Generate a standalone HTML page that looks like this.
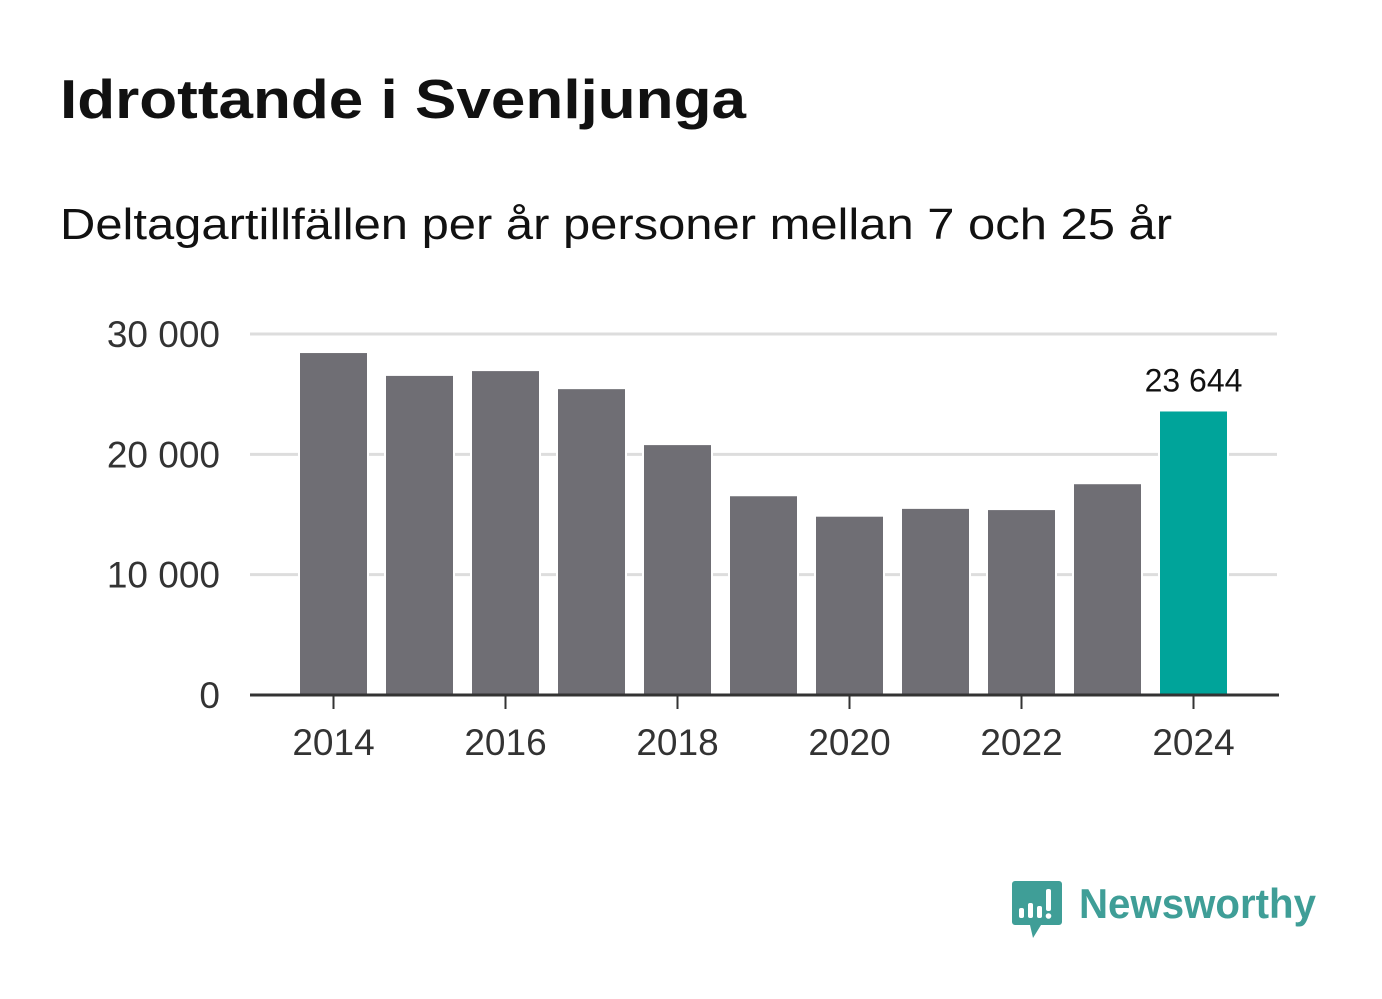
<!DOCTYPE html>
<html><head><meta charset="utf-8"><style>
body{margin:0;background:#fff;font-family:"Liberation Sans",sans-serif;}
#wrap{position:relative;width:1382px;height:999px;overflow:hidden}
</style></head><body>
<div id="wrap">
<svg id="svg" width="1382" height="999">
<text x="60" y="118" font-size="55" font-weight="bold" fill="#111" textLength="686" lengthAdjust="spacingAndGlyphs">Idrottande i Svenljunga</text>
<text x="60" y="239" font-size="44" fill="#111" textLength="1112" lengthAdjust="spacingAndGlyphs">Deltagartillfällen per år personer mellan 7 och 25 år</text>
<g id="grid"></g><g id="bars"></g><g id="axes"></g>
<g>
<path d="M1015 881 h44 a3 3 0 0 1 3 3 v38 a3 3 0 0 1 -3 3 h-18 l-8 13 l-3 -13 h-15 a3 3 0 0 1 -3 -3 v-38 a3 3 0 0 1 3 -3z" fill="#3f9e97"/>
<rect x="1019" y="908" width="5" height="10" rx="2" fill="#fff"/>
<rect x="1028" y="903" width="5" height="15" rx="2" fill="#fff"/>
<rect x="1037" y="906" width="5" height="12" rx="2" fill="#fff"/>
<rect x="1046" y="889" width="5" height="22" rx="2" fill="#fff"/>
<circle cx="1048.5" cy="916" r="2.8" fill="#fff"/>
<text x="1079" y="918" font-size="42" font-weight="bold" fill="#3f9e97" textLength="237" lengthAdjust="spacingAndGlyphs">Newsworthy</text>
</g>
</svg></div>
<script>
const years=[2014,2015,2016,2017,2018,2019,2020,2021,2022,2023,2024];
const values=[28500,26600,27000,25500,20850,16600,14900,15550,15450,17600,23644];
const yTicks=[0,10000,20000,30000];
const yTickLabels=["0","10 000","20 000","30 000"];
const xTickYears=[2014,2016,2018,2020,2022,2024];
const ns="http://www.w3.org/2000/svg";
const y0=695,pxPer=361/30000;
const y=v=>y0-v*pxPer;
const x=yr=>333.5+(yr-2014)*86;
function mk(tag,attrs,parent){const e=document.createElementNS(ns,tag);for(const k in attrs)e.setAttribute(k,attrs[k]);parent.appendChild(e);return e;}
const grid=document.getElementById('grid'),bars=document.getElementById('bars'),axes=document.getElementById('axes');
yTicks.forEach((t,i)=>{
 if(t>0){const l=mk('line',{x1:250,x2:1277,y1:y(t),y2:y(t),stroke:'#ddd','stroke-width':3},grid);
 
 }
 const tx=mk('text',{x:220,y:y(t)+13,'text-anchor':'end','font-size':37,fill:'#333'},axes);
 tx.textContent=yTickLabels[i];
 
 
});
years.forEach((yr,i)=>{
 const last=i===years.length-1;
 const r=mk('rect',{x:x(yr)-34.5,y:y(values[i]),width:69,height:y0-y(values[i]),fill:last?'#00a49a':'#6f6e74',stroke:'#fff','stroke-width':2},bars);
 
 
 if(last){const t=mk('text',{x:x(yr),y:y(values[i])-19,'text-anchor':'middle','font-size':32,fill:'#111'},bars);
 t.textContent=values[i].toLocaleString('sv-SE').replace(/\s/g,' ');
 
 }
});
const ax=mk('line',{x1:250,x2:1279,y1:y0,y2:y0,stroke:'#333','stroke-width':3},axes);


xTickYears.forEach(yr=>{
 const tk=mk('line',{x1:x(yr),x2:x(yr),y1:y0,y2:y0+14,stroke:'#333','stroke-width':2},axes);
 
 
 const t=mk('text',{x:x(yr),y:755,'text-anchor':'middle','font-size':37,fill:'#333'},axes);
 t.textContent=yr;
 
 
});
</script>
</body></html>
